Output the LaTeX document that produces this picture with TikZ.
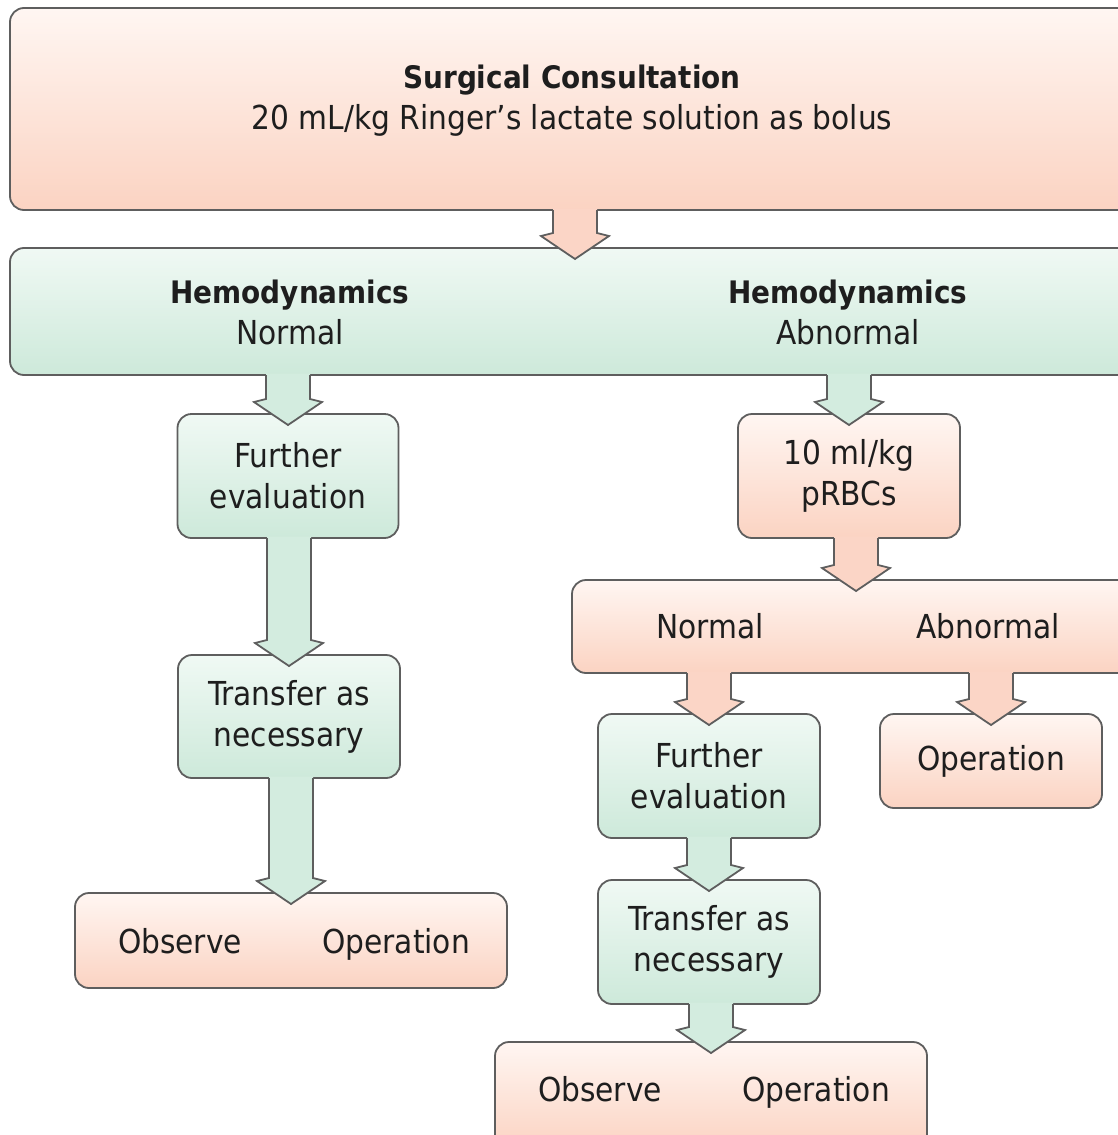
\documentclass[tikz,border=0pt]{standalone}
\usepackage{fontspec}
\setmainfont{DejaVu Sans Condensed}
\usetikzlibrary{calc}
\definecolor{bordergray}{HTML}{5E5E5E}
\definecolor{salTop}{HTML}{FFF6F2}
\definecolor{salBot}{HTML}{FBD3C2}
\definecolor{salFill}{HTML}{FBD5C6}
\definecolor{grnTop}{HTML}{F0F9F4}
\definecolor{grnBot}{HTML}{CDE9DA}
\definecolor{grnFill}{HTML}{D3ECDF}
\definecolor{txtcol}{HTML}{1E1E1E}
\newcommand\bldtxt[1]{{\fontsize{31}{41}\selectfont\bfseries #1}}
\newcommand\fatarrow[3]{%
  \path (#2.north |- #1.south) coordinate (fs) (#2.north) coordinate (ft);
  \fill[#3] ($(fs)+(-22,-1.5)$) -- ($(ft)+(-22,-15)$) -- ($(ft)+(-34,-12)$) -- ($(ft)+(0,11)$)
     -- ($(ft)+(34,-12)$) -- ($(ft)+(22,-15)$) -- ($(fs)+(22,-1.5)$) -- cycle;
  \draw[arrowline] ($(fs)+(-22,0)$) -- ($(ft)+(-22,-15)$) -- ($(ft)+(-34,-12)$) -- ($(ft)+(0,11)$)
     -- ($(ft)+(34,-12)$) -- ($(ft)+(22,-15)$) -- ($(fs)+(22,0)$);
}
\begin{document}
\begin{tikzpicture}[x=1pt,y=-1pt,
  box/.style={draw=bordergray, line width=1.8pt, rounded corners=14pt, inner sep=0pt, outer sep=0pt},
  salbox/.style={box, top color=salTop, bottom color=salBot},
  grnbox/.style={box, top color=grnTop, bottom color=grnBot},
  txt/.style={font=\fontsize{33}{41}\selectfont, text=txtcol, align=center},
  lbl/.style={font=\fontsize{33}{41}\selectfont, text=txtcol, text height=24pt, text depth=7pt, inner sep=0pt, yshift=-3pt},
  arrowline/.style={draw=bordergray, line width=1.8pt, line join=miter}]
\useasboundingbox (0,0) rectangle (1118,1135);
\clip (0,0) rectangle (1118,1135);

% boxes
\node[salbox, minimum width=1130pt, minimum height=202pt] (top) at (575,109) {};
\node[txt] (toptxt) at (572,101) {\bldtxt{Surgical Consultation}\\20 mL/kg Ringer’s lactate solution as bolus};

\node[grnbox, minimum width=1130pt, minimum height=127pt] (hemo) at (575,311.5) {};
\node[txt] (hn) at (290,312) {\bldtxt{Hemodynamics}\\Normal};
\node[txt] (ha) at (848,312) {\bldtxt{Hemodynamics}\\Abnormal};

\node[grnbox, txt, minimum width=221pt, minimum height=124pt] (fel) at (288,476) {Further\\evaluation};
\node[grnbox, txt, minimum width=222pt, minimum height=123pt] (tal) at (289,716.5) {Transfer as\\necessary};
\node[salbox, minimum width=432pt, minimum height=95pt] (ool) at (291,940.5) {};
\node[lbl] (obsl) at (180,942) {Observe};
\node[lbl] (opl) at (396,942) {Operation};

\node[salbox, txt, minimum width=222pt, minimum height=124pt] (prbc) at (849,476) {10 ml/kg\\pRBCs};
\node[salbox, minimum width=568pt, minimum height=93pt] (na) at (856,626.5) {};
\node[lbl] (nan) at (710,627) {Normal};
\node[lbl] (naa) at (988,627) {Abnormal};

\node[grnbox, txt, minimum width=222pt, minimum height=124pt] (fer) at (709,776) {Further\\evaluation};
\node[salbox, minimum width=222pt, minimum height=94pt] (opr) at (991,761) {};
\node[lbl] (oprt) at (991,759) {Operation};
\node[grnbox, txt, minimum width=222pt, minimum height=124pt] (tar) at (709,942) {Transfer as\\necessary};
\node[salbox, minimum width=432pt, minimum height=108pt] (oor) at (711,1096) {};
\node[lbl] (obsr) at (600,1090) {Observe};
\node[lbl] (opr2) at (816,1090) {Operation};

% fat arrows
\fatarrow{top}{hemo}{salFill}
\fatarrow{hemo}{fel}{grnFill}
\fatarrow{fel}{tal}{grnFill}
\fatarrow{tal}{ool}{grnFill}
\fatarrow{hemo}{prbc}{grnFill}
\fatarrow{prbc}{na}{salFill}
\fatarrow{na}{fer}{salFill}
\fatarrow{na}{opr}{salFill}
\fatarrow{fer}{tar}{grnFill}
\fatarrow{tar}{oor}{grnFill}
\end{tikzpicture}
\end{document}
